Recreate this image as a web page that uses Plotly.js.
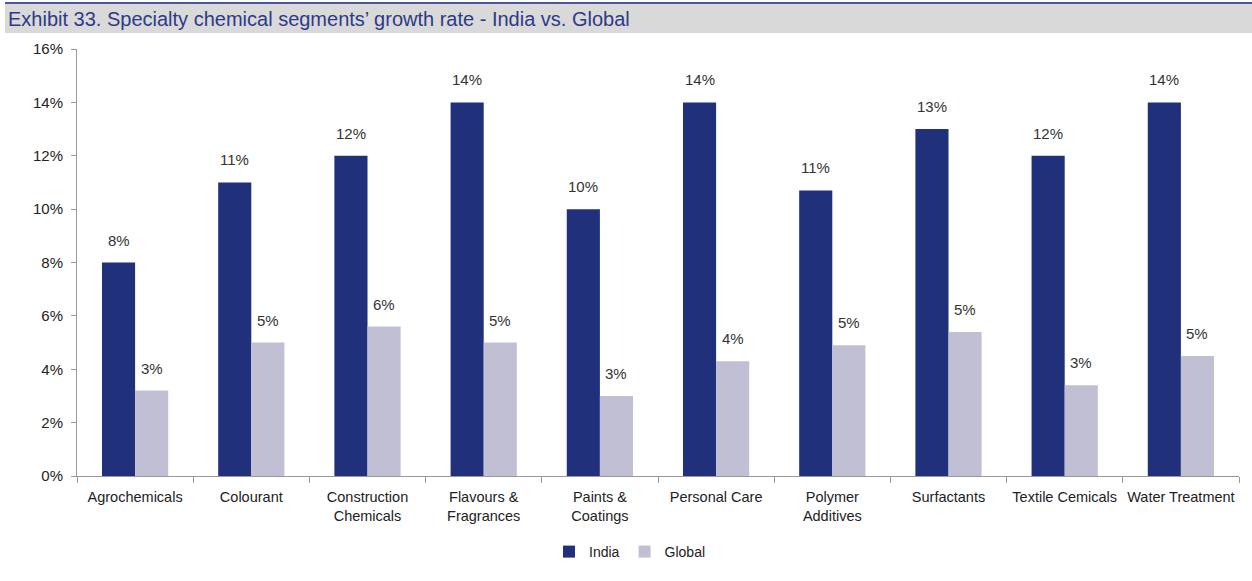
<!DOCTYPE html>
<html>
<head>
<meta charset="utf-8">
<script src="https://cdn.plot.ly/plotly-3.0.1.min.js"></script>
<style>
  html, body { margin: 0; padding: 0; background: #fff; }
  #chart { width: 1252px; height: 581px; }
</style>
</head>
<body>
<div id="chart"></div>
<script>
const categories = ["Agrochemicals", "Colourant", "Construction<br>Chemicals", "Flavours &<br>Fragrances",
  "Paints &<br>Coatings", "Personal Care", "Polymer<br>Additives", "Surfactants", "Textile Cemicals", "Water Treatment"];
const india = [8.0, 11.0, 12.0, 14.0, 10.0, 14.0, 10.7, 13.0, 12.0, 14.0];
const global = [3.2, 5.0, 5.6, 5.0, 3.0, 4.3, 4.9, 5.4, 3.4, 4.5];
const yTicks = [0, 2, 4, 6, 8, 10, 12, 14, 16];

const fontFam = "'Liberation Sans Narrow', 'Liberation Sans', Arial, sans-serif";
const lbl = v => Math.round(v) + "%";

const traces = [
  { type: "bar", name: "India", x: categories, y: india, marker: { color: "#21307a" }, hoverinfo: "none" },
  { type: "bar", name: "Global", x: categories, y: global, marker: { color: "#c0bfd4" }, hoverinfo: "none" }
];

const annotations = [];
[[india, -16.5], [global, 16.5]].forEach(([series, dx]) => {
  series.forEach((v, i) => {
    annotations.push({ x: categories[i], y: v, xref: "x", yref: "y", text: lbl(v), showarrow: false,
      xshift: dx, yshift: 12, yanchor: "bottom", font: { family: fontFam, size: 15, color: "#333" } });
  });
});

const layout = {
  width: 1252, height: 581,
  margin: { l: 77, r: 13, t: 49, b: 105 },
  paper_bgcolor: "#fff", plot_bgcolor: "#fff",
  barmode: "group", bargap: 0.43, bargroupgap: 0,
  font: { family: fontFam, size: 14, color: "#222" },
  title: { text: "Exhibit 33. Specialty chemical segments’ growth rate - India vs. Global",
    font: { family: fontFam, size: 20, color: "#2e3a87" },
    xref: "container", yref: "container", x: 8 / 1252, xanchor: "left", y: 1 - 19 / 581, yanchor: "middle" },
  xaxis: { showline: true, linecolor: "#999", linewidth: 1, ticks: "outside", tickson: "boundaries",
    ticklen: 6, tickcolor: "#999", showgrid: false, zeroline: false, tickangle: 0,
    ticklabelstandoff: 8,
    tickfont: { family: fontFam, size: 14.5, color: "#222" } },
  yaxis: { range: [0, 16], tickvals: yTicks, ticktext: yTicks.map(v => v + "%"),
    showline: true, linecolor: "#999", linewidth: 1, ticks: "outside", ticklen: 5, tickcolor: "#999",
    ticklabelstandoff: 5,
    showgrid: false, zeroline: false, tickfont: { family: fontFam, size: 15, color: "#222" } },
  showlegend: true,
  legend: { orientation: "h", x: (630 - 77) / 1162, xanchor: "center", y: (476 - 552) / 427, yanchor: "middle",
    font: { family: fontFam, size: 14, color: "#222" }, itemwidth: 30, tracegroupgap: 0 },
  annotations: annotations,
  shapes: [
    { type: "rect", xref: "paper", yref: "paper", x0: (5 - 77) / 1162, x1: (1252 - 77) / 1162,
      y0: (476 - 33) / 427, y1: (476 - 4) / 427, fillcolor: "#d9d9d9", line: { width: 0 }, layer: "below" },
    { type: "line", xref: "paper", yref: "paper", x0: (5 - 77) / 1162, x1: (1252 - 77) / 1162,
      y0: (476 - 3) / 427, y1: (476 - 3) / 427, line: { color: "#4a5898", width: 2 } }
  ]
};

Plotly.newPlot("chart", traces, layout, { staticPlot: true, displayModeBar: false });
</script>
</body>
</html>
